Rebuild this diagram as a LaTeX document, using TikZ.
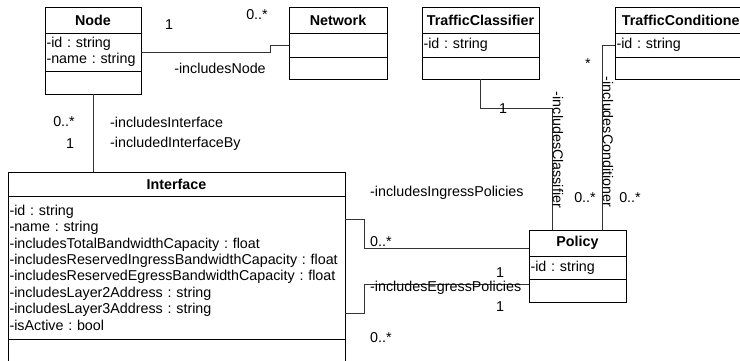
\documentclass[tikz,border=0pt]{standalone}
\usepackage{fontspec}
\setmainfont{Liberation Sans}
\frenchspacing
\newcommand{\fsz}{\fontsize{14.3}{16.4}\selectfont}
\tikzset{
  hdr/.style={draw, line width=1pt, inner sep=0pt, outer sep=0pt, anchor=north west, font=\bfseries\fsz},
  attr/.style={draw, line width=1pt, inner xsep=1.5pt, inner ysep=0pt, outer sep=0pt, anchor=north west, align=left, font=\fsz},
  emptyc/.style={draw, line width=1pt, inner sep=0pt, outer sep=0pt, anchor=north west},
  conn/.style={draw=black!80, line width=0.9pt},
  lbl/.style={font=\fsz, inner sep=0pt},
}
\begin{document}
\begin{tikzpicture}[x=1pt,y=-1pt]
\clip (0,0) rectangle (740,360);
\fill[white] (0,0) rectangle (740,360);
% Node
\node[hdr, minimum width=96pt, minimum height=26pt] (nodeH) at (45,7) {Node};
\node[attr, text width=93pt, minimum height=38pt] (nodeA) at (45,33) {\frenchspacing -id : string\\-name : string};
\node[emptyc, minimum width=96pt, minimum height=23pt] (nodeO) at (45,71) {};
% Network
\node[hdr, minimum width=98pt, minimum height=26pt] (netH) at (289,7) {Network};
\node[emptyc, minimum width=98pt, minimum height=24pt] (netA) at (289,33) {};
\node[emptyc, minimum width=98pt, minimum height=22pt] (netO) at (289,57) {};
% TrafficClassifier
\node[hdr, minimum width=117pt, minimum height=26pt] (tcH) at (422,7) {TrafficClassifier};
\node[attr, text width=114pt, minimum height=24pt] (tcA) at (422,33) {\frenchspacing -id : string};
\node[emptyc, minimum width=117pt, minimum height=22pt] (tcO) at (422,57) {};
% TrafficConditioner
\node[hdr, minimum width=137pt, minimum height=26pt] (tdH) at (615,7) {TrafficConditioner};
\node[attr, text width=134pt, minimum height=24pt] (tdA) at (615,33) {\frenchspacing -id : string};
\node[emptyc, minimum width=137pt, minimum height=22pt] (tdO) at (615,57) {};
% Interface
\node[hdr, minimum width=337pt, minimum height=24pt] (ifH) at (8,172) {Interface};
\node[attr, text width=334pt, minimum height=143pt] (ifA) at (8,196) {\frenchspacing -id : string\\-name : string\\-includesTotalBandwidthCapacity : float\\-includesReservedIngressBandwidthCapacity : float\\-includesReservedEgressBandwidthCapacity : float\\-includesLayer2Address : string\\-includesLayer3Address : string\\-isActive : bool};
\node[emptyc, minimum width=337pt, minimum height=40pt] (ifO) at (8,339) {};
% Policy
\node[hdr, minimum width=97pt, minimum height=26pt] (polH) at (529,230) {Policy};
\node[attr, text width=94pt, minimum height=23pt] (polA) at (529,256) {\frenchspacing -id : string};
\node[emptyc, minimum width=97pt, minimum height=23pt] (polO) at (529,279) {};
% helper coordinates
\coordinate (clsBend) at (552,108);
\coordinate (ingS) at (345,219);
\coordinate (ingE) at (529,248);
\coordinate (egS) at (345,313);
\coordinate (egE) at (529,284);
% connectors
\draw[conn] (nodeA.east) -- ++(129,0) |- (netA.west);
\draw[conn] (nodeO.south) -- (nodeO.south |- ifH.north);
\draw[conn] (tcO.south) |- (clsBend) -- (clsBend |- polH.north);
\draw[conn] (tdA.west) -| ([xshift=-13pt]tdA.west |- polH.north);
\draw[conn] (ingS) -- ++(19,0) |- (ingE);
\draw[conn] (egS) -- ++(19,0) |- (egE);
% labels
\node[lbl] (l1) at (169,25) {1};
\node[lbl] (l2) at (257,15) {0..*};
\node[lbl] (l3) at (220,68) {-includesNode};
\node[lbl] (l4) at (64,122) {0..*};
\node[lbl] (l5) at (70,144) {1};
\node[lbl, anchor=west] (l6) at (110,122) {-includesInterface};
\node[lbl, anchor=west] (l7) at (110,144) {-includedInterfaceBy};
\node[lbl] (l8) at (503,109) {1};
\node[lbl, rotate=-90] (l9) at (558,150) {-includesClassifier};
\node[lbl] (l10) at (585,198) {0..*};
\node[lbl] (l11) at (588,64) {*};
\node[lbl, rotate=-90] (l12) at (608,142) {-includesConditioner};
\node[lbl] (l13) at (630,198) {0..*};
\node[lbl, anchor=west] (l14) at (370,193) {-includesIngressPolicies};
\node[lbl, anchor=west] (l15) at (370,242) {0..*};
\node[lbl] (l16) at (500,273) {1};
\node[lbl, anchor=west] (l17) at (370,288) {-includesEgressPolicies};
\node[lbl] (l18) at (500,307) {1};
\node[lbl, anchor=west] (l19) at (370,338) {0..*};
\end{tikzpicture}
\end{document}
